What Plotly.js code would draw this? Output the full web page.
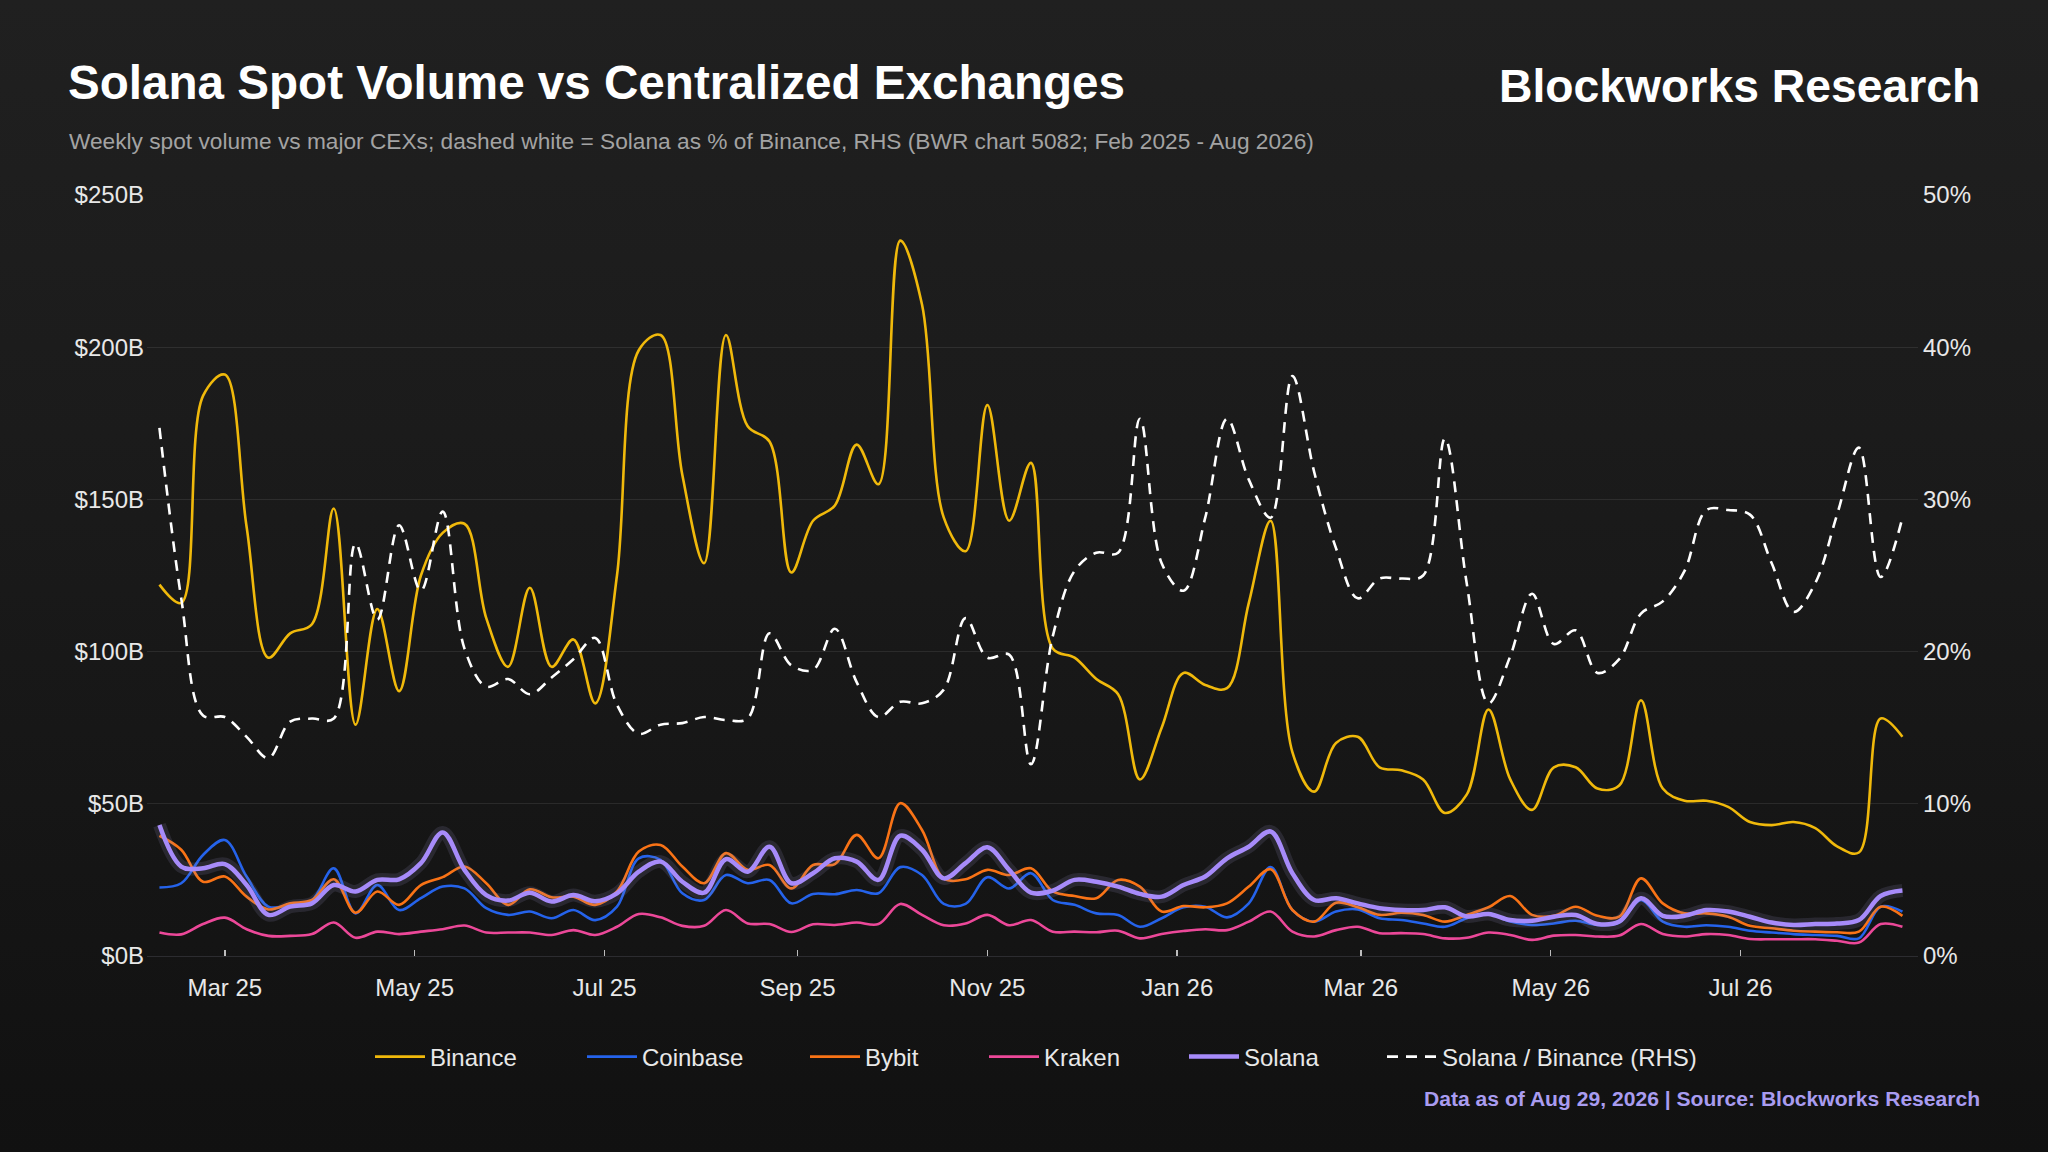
<!DOCTYPE html>
<html>
<head>
<meta charset="utf-8">
<script src="https://cdn.plot.ly/plotly-3.0.1.min.js"></script>
<style>
  html, body { margin: 0; padding: 0; width: 2048px; height: 1152px; overflow: hidden;
    background: linear-gradient(180deg, #202020 0%, #1a1a1a 45%, #111111 100%); }
  #chart { width: 2048px; height: 1152px; }
</style>
</head>
<body>
<div id="chart"></div>
<script>
// ---- data (weekly, $B) ----
const weekStart = '2025-02-08';
const weekCount = 81;

const binance = [122,116,184,191,141,98,106,109,147,76,114,87,125,139,142,111,95,121,95,104,83,
  125,199,204,158,129,204,174,169,126,143,148,168,155,235,214,144,133,181,143,162,
  101,98,91,86,58,75,93,89,88,116,143,67,54,70,72,62,61,58,47,53,
  81,58,48,62,62,55,56,84,55,51,51,49,44,43,44,42,36,34,78,72];

const coinbase = [22.5,23.9,33.2,38.1,26.1,16.2,16.8,18.4,28.8,14,23.3,15.1,19,22.8,22.2,15.7,13.5,14.6,12.4,15.1,11.8,
  16.2,32.1,31.6,20.6,18.4,26.6,23.9,25,17.3,20.4,20.3,21.7,20.6,29.2,26.6,17.1,17.1,25.9,22.2,27.2,
  18.4,16.8,14,13.5,9.6,12.4,16,16.2,12.7,17.3,29.2,15.1,11.3,14.6,15.3,12.4,11.8,10.7,9.6,12.4,
  14,11.3,10.2,10.7,11.6,10.2,11,18.4,11.3,9.6,10.1,9.6,8.3,7.7,7.2,6.9,6.6,5.8,16.2,14.6];

const bybit = [39.5,34.9,24.4,26.1,19.5,15.3,17.3,18.4,25.2,14.2,21.2,16.8,23.3,25.9,29.4,23.9,16.8,21.9,19.3,19.5,16.8,
  21.2,34.3,36.5,29.4,23.9,33.8,28.3,29.9,22.2,29.9,30.2,39.8,32.1,50.2,41.4,25.5,25.2,28.3,26.6,28.8,
  21.2,19.7,19,25,22.8,14.6,16.4,16,17.3,22.8,28.5,15.1,11.3,17.5,16,13.5,14.2,13.5,11.3,13.5,
  16,19.7,13.5,13.2,16.2,13.2,12.9,25.5,17.3,14,14,12.9,9.9,9.1,8.3,8,7.8,8,16.2,13.2];

const kraken = [7.7,7.1,10.5,12.6,8.8,6.6,6.6,7.2,11,6,8,7.2,8,8.8,10,7.7,7.7,7.7,6.9,8.5,6.9,
  9.6,13.8,12.7,9.9,9.9,15.1,10.7,10.5,7.9,10.4,10.2,11,10.5,17.1,13.5,10.1,10.7,13.5,10.1,11.8,
  8,8,7.8,8.3,5.8,7.2,8.2,8.8,8.5,11.3,14.6,8,6.4,8.5,9.6,7.5,7.5,7.2,5.8,6,
  7.7,6.9,5.3,6.7,6.9,6.4,6.7,10.5,7.2,6.4,7.2,6.9,5.6,5.5,5.5,5.5,5,4.4,10.5,9.6];

const solana = [43,29.4,28.8,30.2,23.3,13.5,16.2,17.3,23.3,21.2,25,25.2,30.5,40.6,28.3,20,18.2,20.8,17.9,20,18,
  20.6,27.7,31,24.4,20.8,31.8,27.7,35.9,23.9,27.2,32.1,31,25,39.5,34.9,25.5,30.5,35.7,28.3,20.8,
  21.5,25,24.4,22.8,20.4,19.5,23.3,26.1,32.1,35.9,40.9,27.2,18.4,19,17.3,15.7,15.1,15.1,16,13,
  13.8,11.8,11.6,12.9,13.5,10.5,11.3,19,13.2,13.2,15.1,14.6,12.9,11,10.2,10.5,10.7,11.8,19.7,21.5];

// Solana as % of Binance (RHS)
const ratioPct = [34.7,23.5,15.8,15.7,14.4,13.0,15.4,15.6,15.6,27.1,22.1,28.3,24.0,29.2,20.2,17.7,18.2,17.2,18.3,19.5,20.9,
  16.5,14.6,15.2,15.3,15.7,15.5,15.6,21.2,19.1,18.8,21.5,18.0,15.7,16.7,16.6,17.5,22.2,19.6,19.8,12.6,
  21.0,25.3,26.5,26.5,35.3,25.8,24.0,28.8,35.3,31.3,28.8,38.1,31.8,26.8,23.5,24.8,24.8,25.0,34.0,24.5,
  16.6,19.7,23.8,20.5,21.4,18.6,19.5,22.5,23.3,25.3,29.3,29.3,29.0,25.8,22.6,24.5,29.0,33.4,24.9,28.8];

const seriesNames = ['Binance','Coinbase','Bybit','Kraken','Solana','Solana / Binance (RHS)'];
const seriesColors = ['#F0B90B','#2563EB','#F97316','#EC4899','#A78BFA','#FFFFFF'];

// weekly date labels
const dates = [];
(function(){
  const d0 = new Date(weekStart + 'T00:00:00Z');
  for (let i = 0; i < weekCount; i++) {
    const d = new Date(d0.getTime() + i * 7 * 86400000);
    dates.push(d.toISOString().slice(0,10));
  }
})();

const FONT = '"Liberation Sans", Arial, Helvetica, sans-serif';
const legendIds = ['legend','legend2','legend3','legend4','legend5','legend6'];

function line(y, idx, extra) {
  return Object.assign({
    type: 'scatter', mode: 'lines', x: dates, y: y,
    name: seriesNames[idx], legend: legendIds[idx],
    line: { color: seriesColors[idx], width: 2.6, shape: 'spline', smoothing: 1 },
    hoverinfo: 'skip'
  }, extra || {});
}

const traces = [
  line(binance, 0),
  line(coinbase, 1),
  line(bybit, 2),
  line(kraken, 3),
  // glow under Solana
  { type: 'scatter', mode: 'lines', x: dates, y: solana, showlegend: false, hoverinfo: 'skip',
    line: { color: 'rgba(150,140,190,0.16)', width: 13, shape: 'spline', smoothing: 1 } },
  line(solana, 4, { line: { color: seriesColors[4], width: 4.5, shape: 'spline', smoothing: 1 } }),
  line(ratioPct, 5, { yaxis: 'y2',
    line: { color: seriesColors[5], width: 2.6, dash: '11px,8px', shape: 'spline', smoothing: 1 } })
];

const L = 147, R = 1918, T = 195, B = 956;
const PW = R - L, PH = B - T;
const px = (x) => (x - L) / PW;
const py = (y) => (B - y) / PH;

// legend entry left edges (figure px)
const legendX = [370, 582, 805, 984, 1184, 1382];

const layout = {
  width: 2048, height: 1152,
  paper_bgcolor: 'rgba(0,0,0,0)', plot_bgcolor: 'rgba(0,0,0,0)',
  margin: { l: L, r: 2048 - R, t: T, b: 1152 - B, pad: 0 },
  font: { family: FONT, color: '#e8e8e8', size: 24 },
  showlegend: true,
  title: {
    text: 'Solana Spot Volume vs Centralized Exchanges',
    font: { family: FONT, size: 47.6, color: '#ffffff', weight: 'bold' },
    xref: 'container', yref: 'container', x: 68 / 2048, xanchor: 'left',
    y: 1 - 82 / 1152, yanchor: 'middle'
  },
  xaxis: {
    type: 'date', range: ['2025-02-04', '2026-08-27'],
    tick0: '2025-03-01', dtick: 'M2', tickformat: '%b %y',
    showgrid: false, zeroline: false,
    showline: true, linecolor: '#2c2c30', linewidth: 1,
    ticks: 'inside', ticklen: 6, tickwidth: 1.5, tickcolor: '#bdbdbd',
    ticklabelstandoff: 10,
    tickfont: { family: FONT, size: 24, color: '#e8e8e8' }
  },
  yaxis: {
    range: [0, 250], tick0: 0, dtick: 50,
    tickprefix: '$', ticksuffix: 'B',
    showgrid: true, gridcolor: 'rgba(255,255,255,0.085)', gridwidth: 1.3,
    zeroline: false, showline: false, ticks: '',
    ticklabelstandoff: 2,
    tickfont: { family: FONT, size: 24, color: '#e8e8e8' }
  },
  yaxis2: {
    overlaying: 'y', side: 'right', range: [0, 50], tick0: 0, dtick: 10,
    ticksuffix: '%', showgrid: false, zeroline: false, showline: false, ticks: '',
    ticklabelstandoff: 4,
    tickfont: { family: FONT, size: 24, color: '#e8e8e8' }
  },
  annotations: [
    { text: 'Weekly spot volume vs major CEXs; dashed white = Solana as % of Binance, RHS (BWR chart 5082; Feb 2025 - Aug 2026)',
      xref: 'paper', yref: 'paper', x: px(67), y: py(141), xanchor: 'left', yanchor: 'middle',
      showarrow: false, font: { family: FONT, size: 22.7, color: '#a3a3a3' } },
    { text: '<b>Blockworks Research</b>',
      xref: 'paper', yref: 'paper', x: px(1982), y: py(86), xanchor: 'right', yanchor: 'middle',
      showarrow: false, font: { family: FONT, size: 46.3, color: '#ffffff' } },
    { text: '<b>Data as of Aug 29, 2026 | Source: Blockworks Research</b>',
      xref: 'paper', yref: 'paper', x: px(1982), y: py(1098), xanchor: 'right', yanchor: 'middle',
      showarrow: false, font: { family: FONT, size: 21.1, color: '#A99CF0' } }
  ]
};

legendIds.forEach((id, k) => {
  layout[id] = {
    orientation: 'h', x: px(legendX[k]), xanchor: 'left', y: py(1057), yanchor: 'middle',
    font: { family: FONT, size: 24, color: '#e8e8e8' },
    bgcolor: 'rgba(0,0,0,0)', borderwidth: 0, itemwidth: 50
  };
});

Plotly.newPlot('chart', traces, layout, { staticPlot: true, displayModeBar: false });
</script>
</body>
</html>
